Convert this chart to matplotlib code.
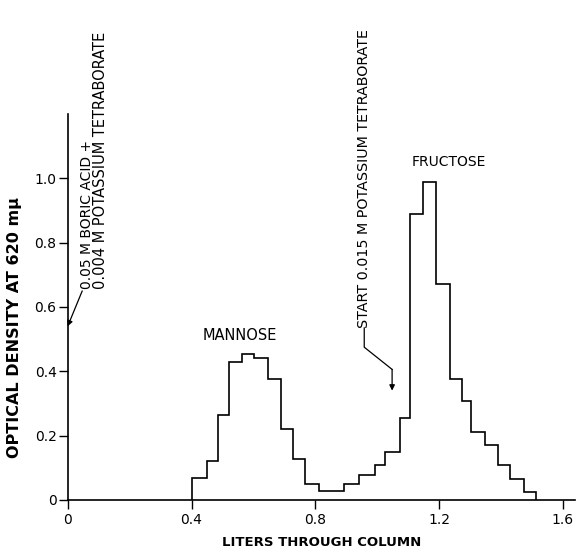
import matplotlib
matplotlib.use("Agg")
import matplotlib.pyplot as plt

# step boundaries (liters) and optical density of each fraction
edges = [0.40, 0.45, 0.485, 0.522, 0.563, 0.603, 0.646, 0.688, 0.727, 0.766,
         0.813, 0.894, 0.942, 0.993, 1.026, 1.073, 1.105, 1.148, 1.19, 1.236,
         1.275, 1.304, 1.349, 1.39, 1.428, 1.473, 1.514]
density = [0.067, 0.122, 0.265, 0.43, 0.453, 0.44, 0.375, 0.222, 0.126, 0.049,
           0.027, 0.051, 0.079, 0.11, 0.15, 0.256, 0.89, 0.99, 0.67, 0.377,
           0.308, 0.21, 0.17, 0.11, 0.065, 0.025]

xticks = [0, 0.4, 0.8, 1.2, 1.6]
xticklabels = ["0", "0.4", "0.8", "1.2", "1.6"]
yticks = [0, 0.2, 0.4, 0.6, 0.8, 1.0]
yticklabels = ["0", "0.2", "0.4", "0.6", "0.8", "1.0"]

plt.rcParams["font.family"] = ["DejaVu Sans"]

fig = plt.figure(figsize=(5.76, 5.48), dpi=100)
ax = fig.add_axes([0.1175, 0.0876, 0.8814, 0.7044])

ax.stairs(density, edges, baseline=0, color="black", lw=1.2)

ax.set_xlim(0, 1.64)
ax.set_ylim(0, 1.2)
ax.spines["top"].set_visible(False)
ax.spines["right"].set_visible(False)
for s in ("left", "bottom"):
    ax.spines[s].set_linewidth(1.2)
ax.set_xticks(xticks, xticklabels)
ax.set_yticks(yticks, yticklabels)
ax.tick_params(direction="out", length=6.5, width=1, labelsize=10, pad=3)
ax.tick_params(axis="y", pad=1.5)

ax.set_xlabel("LITERS THROUGH COLUMN", fontsize=9.5, fontweight="bold", labelpad=6)
fig.text(15 / 576, 1 - 327 / 548, "OPTICAL DENSITY AT 620 m\u03bc", rotation=90,
         ha="center", va="center", fontsize=11.5, fontweight="bold")

# peak labels
ax.text(0.556, 0.51, "MANNOSE", ha="center", va="center", fontsize=10.5)
ax.text(1.231, 1.05, "FRUCTOSE", ha="center", va="center", fontsize=10)

# eluent annotations
ax.text(0.062, 0.655, "0.05 M BORIC ACID +", rotation=90, ha="center", va="bottom",
        fontsize=10)
ax.text(0.106, 0.655, "0.004 M POTASSIUM TETRABORATE", rotation=90, ha="center",
        va="bottom", fontsize=10.5)
ax.annotate("", xy=(0, 0.54), xytext=(0.047, 0.65),
            arrowprops=dict(arrowstyle="-|>", color="black", lw=0.9,
                            mutation_scale=8, shrinkA=0, shrinkB=0))

ax.text(0.958, 0.535, "START 0.015 M POTASSIUM TETRABORATE", rotation=90,
        ha="center", va="bottom", fontsize=10.3)
ax.plot([0.958, 0.958, 1.048], [0.535, 0.475, 0.406], color="black", lw=0.9,
        clip_on=False)
ax.annotate("", xy=(1.048, 0.34), xytext=(1.048, 0.406),
            arrowprops=dict(arrowstyle="-|>", color="black", lw=0.9,
                            mutation_scale=8, shrinkA=0, shrinkB=0))

fig.savefig("out.png", dpi=100)
